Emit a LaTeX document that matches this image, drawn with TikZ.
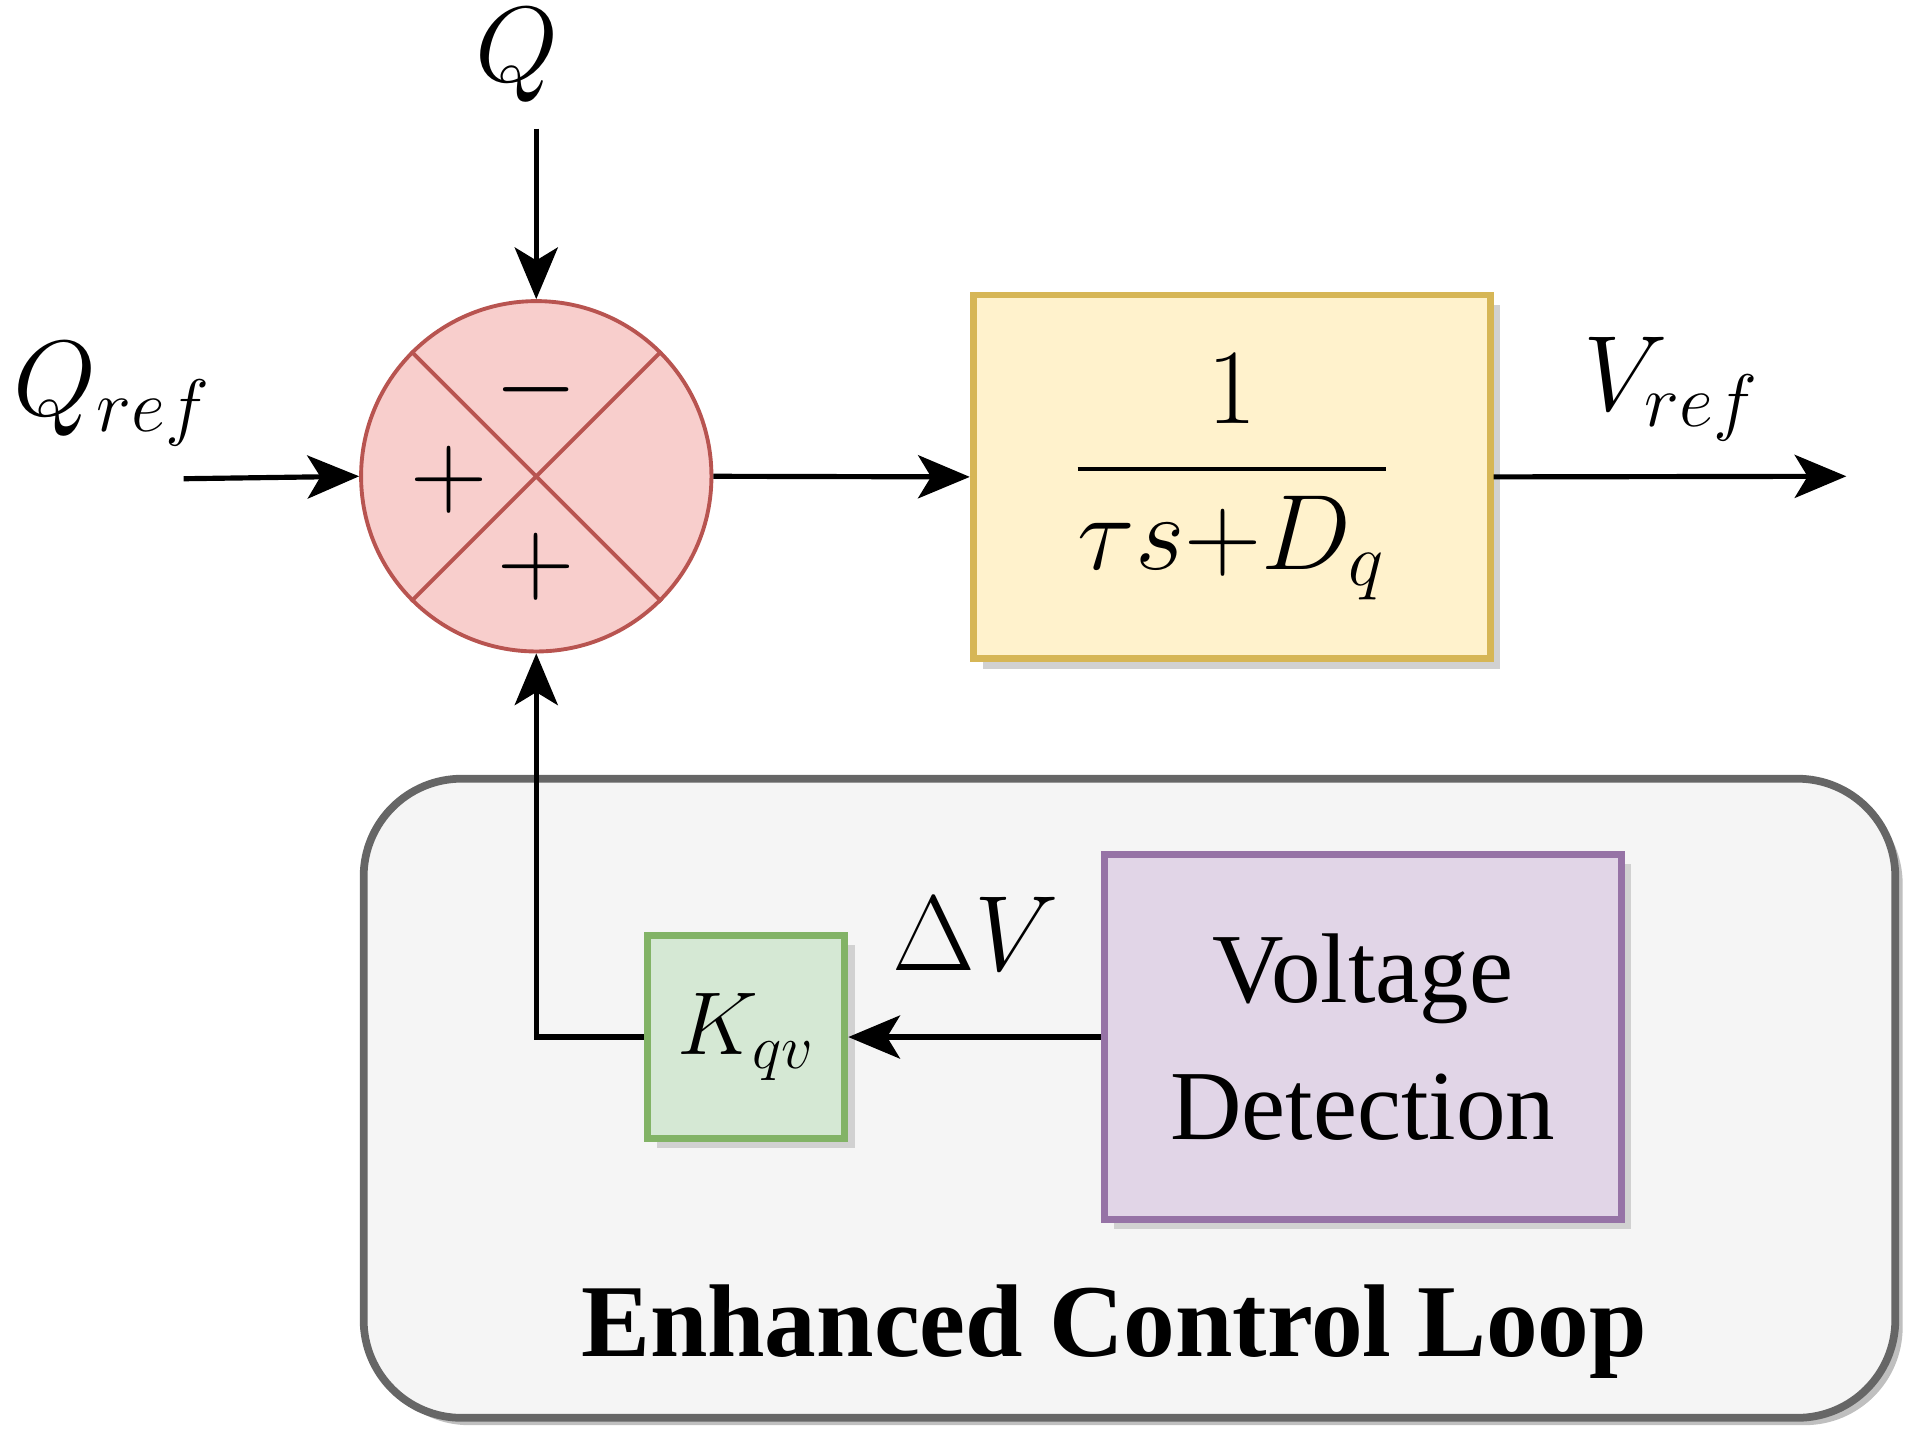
\documentclass[tikz,border=0pt]{standalone}
\usepackage{fontspec}
\setmainfont{Liberation Serif}
\usepackage{amsmath}
\usetikzlibrary{arrows.meta}
\definecolor{rf}{HTML}{F8CECC}\definecolor{rs}{HTML}{B85450}
\definecolor{yf}{HTML}{FFF2CC}\definecolor{ys}{HTML}{D6B656}
\definecolor{gf}{HTML}{D5E8D4}\definecolor{gs}{HTML}{82B366}
\definecolor{pf}{HTML}{E1D5E7}\definecolor{ps}{HTML}{9673A6}
\definecolor{lf}{HTML}{F5F5F5}\definecolor{ls}{HTML}{666666}
\begin{document}
\begin{tikzpicture}[x=0.01cm,y=-0.01cm,
  arr/.style={line width=1.2pt,-{Stealth[length=12pt,width=10pt,inset=3pt]}},
  big/.style={font=\fontsize{23}{28}\selectfont},
  shadow/.style={fill=black!18,draw=none}]
\useasboundingbox (0,0) rectangle (1560,1181);
% enhanced loop background
\fill[black!25,rounded corners=0.8cm] (303,642) rectangle (1554,1164);
\draw[fill=lf,draw=ls,line width=1.8pt,rounded corners=0.8cm] (297,636) rectangle (1548,1158);
\node[font=\fontsize{24}{28}\selectfont\bfseries] (lbl) at (910,1088) {Enhanced Control Loop};
% sum
\node[circle,fill=rf,draw=rs,line width=0.9pt,minimum size=2.86cm,inner sep=0] (sum) at (438,389) {};
\draw[rs,line width=0.9pt] (sum.45) -- (sum.225) (sum.135) -- (sum.-45);
\node[big] (m) at (438,318) {$-$};
\node[big] (p1) at (367,392) {$+$};
\node[big] (p2) at (438,463) {$+$};
% inputs
\node[big] (Q) at (422,45) {$Q$};
\coordinate (qs) at (438,105);
\draw[arr] (qs) -- (sum.north);
\node[big] (Qr) at (92,322) {$Q_{ref}$};
\coordinate (qrs) at (150,391);
\draw[arr] (qrs) -- (sum.west);
% TF block
\fill[shadow] (803,249) rectangle (1225,546);
\node[draw=ys,fill=yf,line width=1.6pt,minimum width=4.22cm,minimum height=2.97cm,inner sep=0] (tf) at (1006,389.5)
  {\fontsize{25}{30}\selectfont$\dfrac{1}{\tau s{+}D_q}$};
\draw[arr] (sum.east) -- (tf.west);
\coordinate (out) at (1508,389);
\draw[arr] (tf.east) -- (out);
\node[big] (Vr) at (1365,318) {$V_{ref}$};
% green
\fill[shadow] (537,772) rectangle (698,938);
\node[draw=gs,fill=gf,line width=1.6pt,minimum width=1.61cm,minimum height=1.66cm,inner sep=0] (k) at (609.5,847) {\fontsize{21}{26}\selectfont$K_{qv}$};
% purple
\fill[shadow] (910,706) rectangle (1332,1004);
\node[draw=ps,fill=pf,line width=1.6pt,minimum width=4.22cm,minimum height=2.98cm,inner sep=0,align=center,
  font=\fontsize{23}{32}\selectfont] (vd) at (1113,847) {Voltage\\Detection};
\draw[arr] (vd.west) -- (k.east);
\node[big] (dv) at (797,763) {$\Delta V$};
\draw[arr] (k.west) -- (438,847) -- (sum.south);
\end{tikzpicture}
\end{document}
